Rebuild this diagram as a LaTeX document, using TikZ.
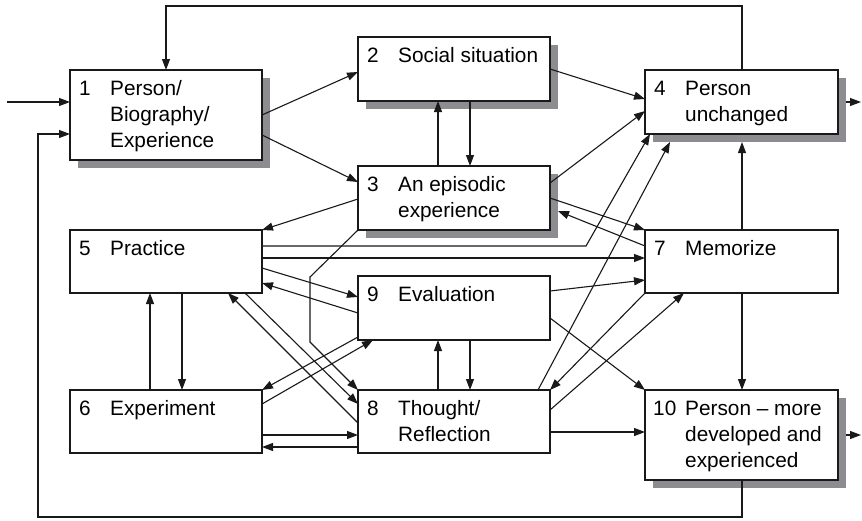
\documentclass[tikz,border=0pt]{standalone}
\usepackage{fontspec}
\setmainfont{Liberation Sans}
\usetikzlibrary{arrows.meta,shadows}
\definecolor{shadowgray}{RGB}{140,140,145}
\definecolor{linec}{RGB}{25,25,25}
\begin{document}
\begin{tikzpicture}[x=1pt,y=-1pt,
 box/.style={draw=linec, line width=1.2pt, fill=white, anchor=north west, minimum width=192pt, inner sep=0pt, outer sep=0pt},
 sbox/.style={box, drop shadow={shadow xshift=8pt, shadow yshift=-8pt, fill=shadowgray, opacity=1}},
 lbl/.style={anchor=base west, inner sep=0pt, font=\fontsize{20.8}{26}\selectfont},
 arr/.style={draw=linec, line width=1.1pt, -{Triangle[length=11pt,width=8pt]}},
 ln/.style={draw=linec, line width=1.1pt}]
\useasboundingbox (0,0) rectangle (862,520);

% boxes
\node[sbox, minimum height=90pt] (b1) at (70,70) {};
\node[sbox, minimum height=64pt] (b2) at (358,37) {};
\node[sbox, minimum height=64pt] (b3) at (358,166) {};
\node[sbox, minimum height=64pt, minimum width=193pt] (b4) at (645,70) {};
\node[box, minimum height=63pt] (b5) at (70,230) {};
\node[box, minimum height=63pt, minimum width=193pt] (b7) at (645,230) {};
\node[box, minimum height=64pt] (b9) at (358,276) {};
\node[box, minimum height=63pt] (b6) at (70,390) {};
\node[box, minimum height=63pt] (b8) at (358,390) {};
\node[sbox, minimum height=90pt, minimum width=193pt] (b10) at (645,390) {};

% labels
\node[lbl] (t1) at ([xshift=9pt,yshift=-25pt]b1.north west) {\begin{tabular}[t]{@{}p{31pt}@{}l@{}}1&Person/\\&Biography/\\&Experience\end{tabular}};
\node[lbl] (t2) at ([xshift=9pt,yshift=-25pt]b2.north west) {\begin{tabular}[t]{@{}p{31pt}@{}l@{}}2&Social situation\end{tabular}};
\node[lbl] (t3) at ([xshift=9pt,yshift=-25pt]b3.north west) {\begin{tabular}[t]{@{}p{31pt}@{}l@{}}3&An episodic\\&experience\end{tabular}};
\node[lbl] (t4) at ([xshift=9pt,yshift=-25pt]b4.north west) {\begin{tabular}[t]{@{}p{31pt}@{}l@{}}4&Person\\&unchanged\end{tabular}};
\node[lbl] (t5) at ([xshift=9pt,yshift=-25pt]b5.north west) {\begin{tabular}[t]{@{}p{31pt}@{}l@{}}5&Practice\end{tabular}};
\node[lbl] (t6) at ([xshift=9pt,yshift=-25pt]b6.north west) {\begin{tabular}[t]{@{}p{31pt}@{}l@{}}6&Experiment\end{tabular}};
\node[lbl] (t7) at ([xshift=9pt,yshift=-25pt]b7.north west) {\begin{tabular}[t]{@{}p{31pt}@{}l@{}}7&Memorize\end{tabular}};
\node[lbl] (t8) at ([xshift=9pt,yshift=-25pt]b8.north west) {\begin{tabular}[t]{@{}p{31pt}@{}l@{}}8&Thought/\\&Reflection\end{tabular}};
\node[lbl] (t9) at ([xshift=9pt,yshift=-25pt]b9.north west) {\begin{tabular}[t]{@{}p{31pt}@{}l@{}}9&Evaluation\end{tabular}};
\node[lbl] (t10) at ([xshift=8pt,yshift=-25pt]b10.north west) {\begin{tabular}[t]{@{}p{32pt}@{}l@{}}10&Person – more\\&developed and\\&experienced\end{tabular}};

% helper coordinates
\coordinate (in) at (7,102);
\coordinate (out4) at (861,102);
\coordinate (out10) at (861,435);
\coordinate (ftr) at (166,6);
\coordinate (fbl) at (38,517);
\coordinate (k1) at (310,277);
\coordinate (k2) at (310,342);
\coordinate (k3) at (586,246);

% input / outputs / feedback
\draw[arr] (in) -- (in -| b1.west);
\draw[arr] ([xshift=8pt]b4.east) -- (out4);
\draw[arr] ([xshift=8pt]b10.east) -- (out10);
\draw[arr] ([xshift=97pt]b4.north west) |- (ftr) -| ([xshift=96pt]b1.north west);
\draw[arr] ([xshift=97pt]b10.south west) |- (fbl) |- ([yshift=-64pt]b1.north west);

% connectors
\draw[arr] ([yshift=-45pt]b1.north east) -- ([yshift=-35pt]b2.north west);
\draw[arr] ([yshift=-65pt]b1.north east) -- ([yshift=-16pt]b3.north west);
\draw[arr] ([yshift=-33pt]b3.north west) -- (b5.north east);
\draw[arr] (b3.south west) -- (k1) -- (k2) -- (b8.north west);
\draw[arr] ([yshift=-32pt]b2.north east) -- ([yshift=-29pt]b4.north west);
\draw[arr] ([yshift=-17pt]b3.north east) -- ([yshift=-41pt]b4.north west);
\draw[arr] ([xshift=80pt]b3.north west) -- ([xshift=80pt]b2.south west);
\draw[arr] ([xshift=112pt]b2.south west) -- ([xshift=112pt]b3.north west);
\draw[arr] ([yshift=-32pt]b3.north east) -- (b7.north west);
\draw[arr] ([yshift=-16pt]b7.north west) -- ([xshift=8pt,yshift=-45pt]b3.north east);
\draw[arr] ([yshift=-16pt]b5.north east) -- (k3) -- ([xshift=5pt]b4.south west);
\draw[arr] ([yshift=-28pt]b5.north east) -- ([yshift=-28pt]b7.north west);
\draw[arr] ([xshift=180pt]b8.north west) -- ([xshift=25pt,yshift=-8pt]b4.south west);
\draw[arr] ([xshift=97pt]b7.north west) -- ([xshift=97pt,yshift=-8pt]b4.south west);
\draw[arr] ([yshift=-38pt]b5.north east) -- ([yshift=-21pt]b9.north west);
\draw[arr] ([yshift=-37pt]b9.north west) -- ([yshift=-53pt]b5.north east);
\draw[arr] ([yshift=-15pt]b9.north east) -- ([yshift=-50pt]b7.north west);
\draw[arr] ([yshift=-42pt]b9.north east) -- (b10.north west);
\draw[arr] ([xshift=112pt]b9.south west) -- ([xshift=112pt]b8.north west);
\draw[arr] ([xshift=80pt]b8.north west) -- ([xshift=80pt]b9.south west);
\draw[arr] (b7.south west) -- (b8.north east);
\draw[arr] ([yshift=-20pt]b8.north east) -- ([xshift=39pt]b7.south west);
\draw[arr] ([yshift=-42pt]b8.north east) -- ([yshift=-42pt]b10.north west);
\draw[arr] ([xshift=97pt]b7.south west) -- ([xshift=97pt]b10.north west);
\draw[arr] ([xshift=112pt]b5.south west) -- ([xshift=112pt]b6.north west);
\draw[arr] ([xshift=80pt]b6.north west) -- ([xshift=80pt]b5.south west);
\draw[arr] ([yshift=-61pt]b9.north west) -- (b6.north east);
\draw[arr] ([yshift=-14pt]b6.north east) -- ([xshift=15pt]b9.south west);
\draw[arr] ([xshift=175pt]b5.south west) -- ([yshift=-14pt]b8.north west);
\draw[arr] ([yshift=-33pt]b8.north west) -- ([xshift=158pt]b5.south west);
\draw[arr] ([yshift=-45pt]b6.north east) -- ([yshift=-45pt]b8.north west);
\draw[arr] ([yshift=-57pt]b8.north west) -- ([yshift=-57pt]b6.north east);
\end{tikzpicture}
\end{document}
